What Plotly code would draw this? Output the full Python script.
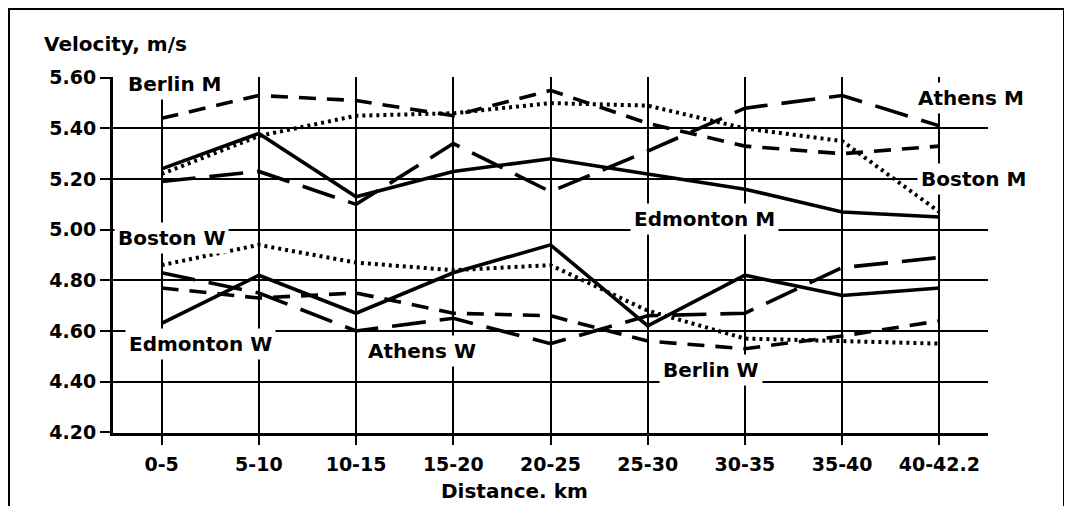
import plotly.graph_objects as go

categories = ["0-5", "5-10", "10-15", "15-20", "20-25", "25-30", "30-35", "35-40", "40-42.2"]

edmonton_m = [5.24, 5.38, 5.13, 5.23, 5.28, 5.22, 5.16, 5.07, 5.05]
athens_m = [5.19, 5.23, 5.10, 5.34, 5.15, 5.31, 5.48, 5.53, 5.41]
berlin_m = [5.44, 5.53, 5.51, 5.45, 5.55, 5.42, 5.33, 5.30, 5.33]
boston_m = [5.22, 5.37, 5.45, 5.46, 5.50, 5.49, 5.40, 5.35, 5.07]

edmonton_w = [4.63, 4.82, 4.67, 4.83, 4.94, 4.62, 4.82, 4.74, 4.77]
athens_w = [4.83, 4.75, 4.60, 4.65, 4.55, 4.66, 4.67, 4.85, 4.89]
berlin_w = [4.77, 4.73, 4.75, 4.67, 4.66, 4.56, 4.53, 4.58, 4.64]
boston_w = [4.86, 4.94, 4.87, 4.84, 4.86, 4.68, 4.57, 4.56, 4.55]

y_ticks = [4.20, 4.40, 4.60, 4.80, 5.00, 5.20, 5.40, 5.60]
y_tick_text = ["4.20", "4.40", "4.60", "4.80", "5.00", "5.20", "5.40", "5.60"]

series = [
    ("Edmonton M", edmonton_m, "solid"),
    ("Athens M", athens_m, "34px,14px"),
    ("Berlin M", berlin_m, "17px,11px"),
    ("Boston M", boston_m, "3px,4px"),
    ("Edmonton W", edmonton_w, "solid"),
    ("Athens W", athens_w, "34px,14px"),
    ("Berlin W", berlin_w, "17px,11px"),
    ("Boston W", boston_w, "3px,4px"),
]

# page body has an 8px margin, so the figure starts at (8, 8) in the window
OFF = 8
W, H = 1072 - OFF, 506 - OFF
L, R, T, B = 113 - OFF, 84, 77 - OFF, 73
PW, PH = W - L - R, H - T - B


def px(x):
    return (x - OFF - L) / PW


def py(y):
    return (H - B - (y - OFF)) / PH


fig = go.Figure()
x_idx = list(range(len(categories)))
for name, vals, dash in series:
    fig.add_trace(go.Scatter(
        x=x_idx, y=vals, mode="lines", name=name,
        line=dict(color="black", width=3.6 if dash != "3px,4px" else 4, dash=dash),
        showlegend=False,
    ))

FONT = "DejaVu Sans"

fig.update_layout(
    width=W, height=H,
    margin=dict(l=L, r=R, t=T, b=B, pad=0),
    paper_bgcolor="white", plot_bgcolor="white",
    showlegend=False,
)

fig.update_xaxes(
    range=[-0.5, 8.5],
    tickmode="array", tickvals=x_idx, ticktext=categories,
    showgrid=True, gridcolor="black", gridwidth=2,
    showline=True, linecolor="black", linewidth=3,
    ticks="outside", ticklen=9, tickwidth=2, tickcolor="black",
    ticklabelstandoff=3,
    tickfont=dict(family=FONT, size=19, color="black", weight="bold"),
    zeroline=False,
)
fig.update_yaxes(
    range=[4.197, 5.603],
    tickmode="array", tickvals=y_ticks, ticktext=y_tick_text,
    showgrid=True, gridcolor="black", gridwidth=2,
    showline=True, linecolor="black", linewidth=3,
    ticks="outside", ticklen=10, tickwidth=2, tickcolor="black",
    tickfont=dict(family=FONT, size=19, color="black", weight="bold"),
    zeroline=False,
)

labels = [
    ("Berlin M", 124, 84),
    ("Athens M", 914, 98),
    ("Boston M", 917, 179),
    ("Edmonton M", 630, 219),
    ("Boston W", 114, 238),
    ("Edmonton W", 125, 344),
    ("Athens W", 364, 351),
    ("Berlin W", 659, 370),
]
for text, xl, yc in labels:
    fig.add_annotation(
        text=text, xref="paper", yref="paper", x=px(xl), y=py(yc),
        xanchor="left", yanchor="middle", showarrow=False,
        bgcolor="white", borderpad=3,
        font=dict(family=FONT, size=20, color="black", weight="bold"),
    )

fig.add_annotation(
    text="Velocity, m/s", xref="paper", yref="paper", x=px(42), y=py(44),
    xanchor="left", yanchor="middle", showarrow=False,
    font=dict(family=FONT, size=20, color="black", weight="bold"),
)
fig.add_annotation(
    text="Distance. km", xref="paper", yref="paper", x=px(514), y=py(491),
    xanchor="center", yanchor="middle", showarrow=False,
    font=dict(family=FONT, size=20, color="black", weight="bold"),
)

fig.add_shape(
    type="rect", xref="paper", yref="paper",
    x0=px(9), x1=px(1064), y0=py(530), y1=py(9),
    line=dict(color="black", width=2), fillcolor="rgba(0,0,0,0)", layer="below",
)

fig.write_html("out.html")
